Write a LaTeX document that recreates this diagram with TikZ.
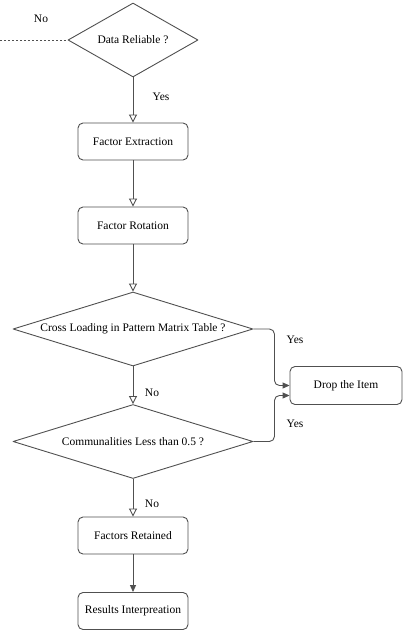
\documentclass[tikz,border=0pt]{standalone}
\usepackage{fontspec}
\setmainfont{Liberation Serif}
\usetikzlibrary{shapes.geometric,arrows.meta}
\definecolor{linegray}{HTML}{505050}
\begin{document}
\begin{tikzpicture}[x=1pt, y=-1pt, font=\fontsize{11.5}{13}\selectfont, line join=round,
  stepbox/.style={draw=linegray, line width=0.9pt, rounded corners=5pt, minimum width=110pt, minimum height=37pt},
  decision/.style={diamond, draw=linegray, line width=0.9pt, inner sep=0pt, minimum height=74pt},
  flow/.style={draw=linegray, line width=0.9pt, -{Triangle[open, length=8pt, width=8pt]}},
  flowfill/.style={draw=linegray, line width=0.9pt, -{Triangle[length=7pt, width=6pt]}},
  elbow/.style={flowfill, rounded corners=5pt}]
	\useasboundingbox (0,0) rectangle (405,635);
	% decisions and steps
	\node[decision, minimum width=130pt] (reliable) at (133,40) {\makebox[0pt]{Data Reliable ?}};
	\node[stepbox] (extract) at (133,141.5) {Factor Extraction};
	\node[stepbox] (rotate) at (133,225.5) {Factor Rotation};
	\node[decision, minimum width=240pt] (cross) at (133,329) {\makebox[0pt]{Cross Loading in Pattern Matrix Table ?}};
	\node[decision, minimum width=240pt] (commun) at (133,441.5) {\makebox[0pt]{Communalities Less than 0.5 ?}};
	\node[stepbox, minimum width=112pt, minimum height=38pt] (drop) at (346,385.5) {Drop the Item};
	\node[stepbox] (retain) at (133,535.5) {Factors Retained};
	\node[stepbox] (interp) at (133,611) {Results Interpreation};
	\coordinate (noexit) at (0,40);
	% connectors
	\draw[draw=linegray, line width=0.7pt, dash pattern=on 2pt off 2pt] (noexit) -- (reliable.west);
	\draw[flow] (reliable) -- (extract);
	\draw[flow] (extract) -- (rotate);
	\draw[flow] (rotate) -- (cross);
	\draw[flow] (cross) -- (commun);
	\draw[flow] (commun) -- (retain);
	\draw[flowfill] (retain) -- (interp);
	\draw[elbow] (cross.east) -- ++(21,0) |- (drop.west);
	\draw[elbow] (commun.east) -- ++(21,0) |- ([yshift=-10pt]drop.west);
	% labels
	\node (no1) at (41,19) {No};
	\node (yes1) at (161,97) {Yes};
	\node (yes2) at (295,340) {Yes};
	\node (no2) at (152,393) {No};
	\node (yes3) at (295,424) {Yes};
	\node (no3) at (152,504) {No};
\end{tikzpicture}
\end{document}
